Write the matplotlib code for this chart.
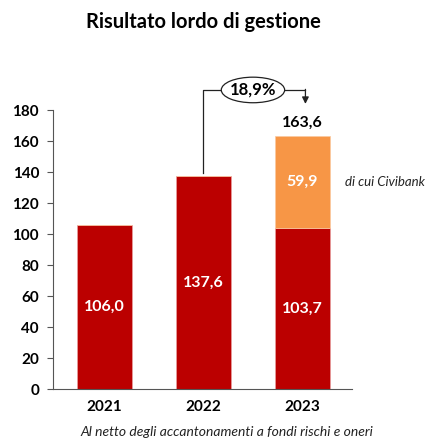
import matplotlib.pyplot as plt
from matplotlib.patches import Ellipse

plt.rcParams['font.family'] = ['Lato', 'DejaVu Sans']

# Data
years = ['2021', '2022', '2023']
base_values = [106.0, 137.6, 103.7]
civibank_values = [0, 0, 59.9]
totals = [106.0, 137.6, 163.6]
growth_label = '18,9%'

red = '#BB0000'
orange = '#F79646'

fig = plt.figure(figsize=(4.32, 4.42), dpi=100)
ax = fig.add_axes([0.1227, 0.1199, 0.692, 0.631])

x = list(range(len(years)))
ax.bar(x, base_values, width=0.56, color=red, edgecolor='#E8A0A0', linewidth=0.5)
ax.bar(x, civibank_values, bottom=base_values, width=0.56, color=orange,
       edgecolor='#FAC9A0', linewidth=0.5)

# Labels inside the bars
for xi, v in zip(x, base_values):
    ax.text(xi, v / 2, f'{v:.1f}'.replace('.', ','), ha='center', va='center',
            color='white', fontsize=11.5, fontweight='bold')
for xi, b, v in zip(x, base_values, civibank_values):
    if v > 0:
        ax.text(xi, b + v / 2, f'{v:.1f}'.replace('.', ','), ha='center', va='center',
                color='white', fontsize=11.5, fontweight='bold')
        ax.text(xi + 0.43, b + v / 2, 'di cui Civibank', ha='left', va='center',
                fontsize=9.5, style='italic', color='#222222')
ax.text(2, totals[2] + 4, f'{totals[2]:.1f}'.replace('.', ','), ha='center', va='bottom',
        fontsize=11.5, fontweight='bold', color='black')

# Growth annotation 2022 -> 2023
y_line = 193
ax.plot([1, 1, 2.03], [totals[1] + 2, y_line, y_line], color='#222222', lw=0.9,
        clip_on=False, zorder=3)
ax.annotate('', xy=(2.03, 184), xytext=(2.03, y_line + 0.4),
            arrowprops=dict(arrowstyle='-|>', color='#222222', lw=0.9,
                            mutation_scale=10, shrinkA=0, shrinkB=0),
            annotation_clip=False)
ax.add_patch(Ellipse((1.5, y_line), 0.64, 16.5, facecolor='white', edgecolor='#222222',
                     lw=0.9, clip_on=False, zorder=4))
ax.text(1.5, y_line, growth_label, ha='center', va='center', fontsize=12,
        fontweight='bold', zorder=5)

ax.set_xlim(-0.52, 2.5)
ax.set_ylim(0, 180)
ax.set_yticks(range(0, 181, 20))
ax.set_xticks(x)
ax.set_xticklabels(years)
for lbl in ax.get_yticklabels() + ax.get_xticklabels():
    lbl.set_fontweight('bold')
    lbl.set_fontsize(11)
ax.tick_params(axis='y', length=4, width=0.8, color='#555555', pad=6)
ax.tick_params(axis='x', length=0, pad=8)
ax.spines['top'].set_visible(False)
ax.spines['right'].set_visible(False)
ax.spines['left'].set_color('#555555')
ax.spines['bottom'].set_color('#555555')

fig.text(0.47, 0.95, 'Risultato lordo di gestione', ha='center', va='center',
         fontsize=14.5, fontweight='bold')
fig.text(0.525, 0.022, 'Al netto degli accantonamenti a fondi rischi e oneri',
         ha='center', va='center', fontsize=10, style='italic', color='#222222')

fig.savefig('out.png', dpi=100)
